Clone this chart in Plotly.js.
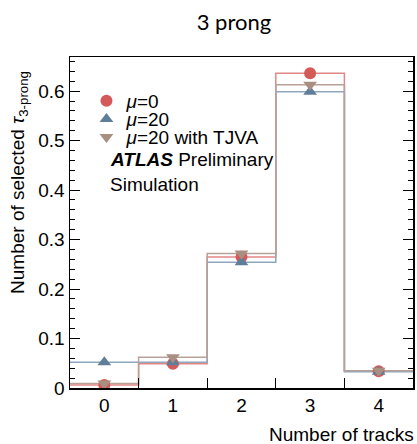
<!DOCTYPE html>
<html><head><meta charset="utf-8">
<script src="https://cdn.plot.ly/plotly-3.0.1.min.js"></script>
<style>body{margin:0;background:#fff}#chart{width:417px;height:444px}</style>
</head><body><div id="chart"></div>
<script>
const categories = [0, 1, 2, 3, 4];
const tickLabels = ["0", "1", "2", "3", "4"];
const mu0 = [0.006, 0.049, 0.265, 0.636, 0.034];
const mu20 = [0.052, 0.052, 0.254, 0.599, 0.033];
const mu20tjva = [0.009, 0.062, 0.272, 0.613, 0.035];

const seriesNames = ["<i>μ</i>=0", "<i>μ</i>=20", "<i>μ</i>=20 with TJVA"];
const lineColors = ["#e38686", "#8ea7be", "#b7a198"];
const markerColors = ["#d45959", "#5f7e99", "#a88f82"];
const markerSymbols = ["circle", "triangle-up", "triangle-down"];
const allSeries = [mu0, mu20, mu20tjva];
const legendIds = ["legend", "legend2", "legend3"];

const edges = categories.map(c => c - 0.5).concat([categories[categories.length - 1] + 0.5]);
const traces = [];
allSeries.forEach((vals, i) => {
  traces.push({
    x: edges, y: vals.concat([vals[vals.length - 1]]),
    type: 'scatter', mode: 'lines', line: {shape: 'hv', color: lineColors[i], width: 1.5},
    showlegend: false, hoverinfo: 'skip'
  });
});
allSeries.forEach((vals, i) => {
  traces.push({
    x: categories, y: vals, type: 'scatter', mode: 'markers', name: seriesNames[i],
    legend: legendIds[i],
    marker: {symbol: markerSymbols[i], size: 12, color: markerColors[i]}
  });
});

const font = {family: 'Liberation Sans, Arial, sans-serif', size: 19, color: '#000'};
const legendTops = [0.9245, 0.8695, 0.8155];
const layout = {
  width: 417, height: 444,
  margin: {l: 70, r: 4, t: 57, b: 56},
  paper_bgcolor: '#fff', plot_bgcolor: '#fff',
  font: font,
  title: {text: '3 prong', x: 0.561, xanchor: 'center', y: 0.95, yanchor: 'middle',
          font: {family: 'Lato, DejaVu Sans, sans-serif', size: 22, color: '#000'}},
  xaxis: {
    range: [-0.5, 4.5], tickvals: categories, ticktext: tickLabels, ticks: '',
    showgrid: false, zeroline: false, showline: true, linecolor: '#000', linewidth: 1.5, mirror: true,
    tickfont: font,
    minor: {tickvals: [0.5, 1.5, 2.5, 3.5], ticks: 'inside', ticklen: 10, tickcolor: '#000', tickwidth: 1, showgrid: false}
  },
  yaxis: {
    range: [0, 0.669], tickvals: [0, 0.1, 0.2, 0.3, 0.4, 0.5, 0.6],
    ticktext: ["0", "0.1", "0.2", "0.3", "0.4", "0.5", "0.6"],
    ticks: 'inside', ticklen: 10, tickcolor: '#000', tickwidth: 1,
    showgrid: false, zeroline: false, showline: true, linecolor: '#000', linewidth: 1.5, mirror: 'ticks',
    tickfont: font,
    minor: {dtick: 0.02, tick0: 0, ticks: 'inside', ticklen: 5, tickcolor: '#000', tickwidth: 1, showgrid: false}
  },
  showlegend: true,
  annotations: [
    {text: '<b><i>ATLAS</i></b> Preliminary', xref: 'paper', yref: 'paper', x: 0.11, y: 0.689, xanchor: 'left', yanchor: 'middle', showarrow: false, font: font},
    {text: 'Simulation', xref: 'paper', yref: 'paper', x: 0.11, y: 0.616, xanchor: 'left', yanchor: 'middle', showarrow: false, font: font},
    {text: 'Number of tracks', xref: 'paper', yref: 'paper', x: 1.01, y: -0.139, xanchor: 'right', yanchor: 'middle', showarrow: false, font: font},
    {text: 'Number of selected <i>τ</i><sub>3-prong</sub>', xref: 'paper', yref: 'paper', x: -0.149, y: 0.965, xanchor: 'center', yanchor: 'top', textangle: -90, showarrow: false, font: font}
  ]
};
legendIds.forEach((id, i) => {
  layout[id] = {x: 0.048, xanchor: 'left', y: legendTops[i], yanchor: 'top', bgcolor: 'rgba(0,0,0,0)',
                font: font, itemwidth: 30};
});
Plotly.newPlot('chart', traces, layout, {displayModeBar: false, staticPlot: true});
</script></body></html>
